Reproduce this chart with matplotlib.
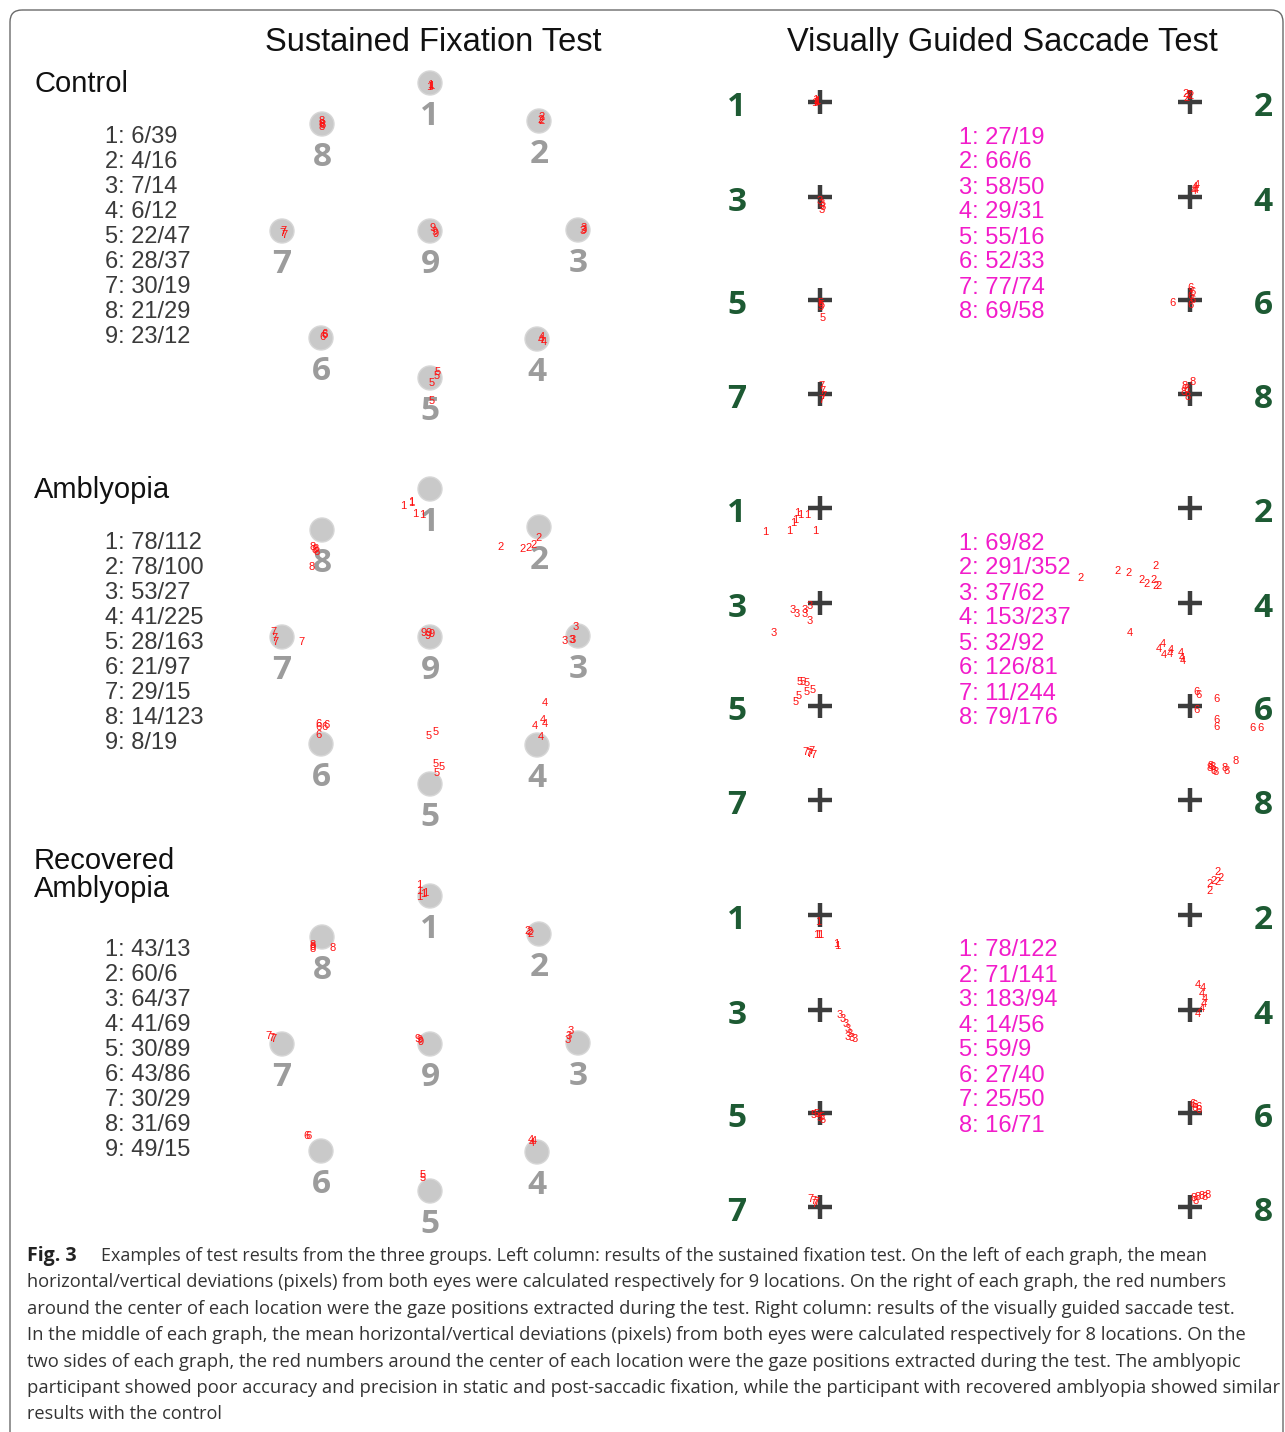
import matplotlib
matplotlib.use('Agg')
import matplotlib.pyplot as plt
from matplotlib.patches import Circle, FancyBboxPatch

W, H = 1285, 1432

groups = ['Control', 'Amblyopia', 'Recovered\nAmblyopia']

# mean horizontal/vertical deviations (pixels), sustained fixation, locations 1-9
fix_dev_control = ['6/39', '4/16', '7/14', '6/12', '22/47', '28/37', '30/19', '21/29', '23/12']
fix_dev_amblyopia = ['78/112', '78/100', '53/27', '41/225', '28/163', '21/97', '29/15', '14/123', '8/19']
fix_dev_recovered = ['43/13', '60/6', '64/37', '41/69', '30/89', '43/86', '30/29', '31/69', '49/15']

# mean horizontal/vertical deviations (pixels), saccade test, locations 1-8
sac_dev_control = ['27/19', '66/6', '58/50', '29/31', '55/16', '52/33', '77/74', '69/58']
sac_dev_amblyopia = ['69/82', '291/352', '37/62', '153/237', '32/92', '126/81', '11/244', '79/176']
sac_dev_recovered = ['78/122', '71/141', '183/94', '14/56', '59/9', '27/40', '25/50', '16/71']

# fixation targets 1-9, offset from the central target (pixels)
fix_target_dx = [0, 109, 148, 107, 0, -109, -148, -108, 0]
fix_target_dy = [-148, -110, -1, 108, 147, 107, 0, -107, 0]

# saccade targets 1-8: side (0 left, 1 right) and row
sac_target_side = [0, 1, 0, 1, 0, 1, 0, 1]
sac_target_row = [0, 0, 1, 1, 2, 2, 3, 3]

# gaze samples: (target, dx, dy) relative to the target centre
gaze_fix_control = [
    (1, 0, 2), (1, 1, 3), (1, -1, 4),
    (2, 3, -4), (2, 3, 0), (2, 2, -1),
    (3, 6, -2), (3, 6, 0), (3, 5, 1),
    (4, 5, -2), (4, 4, 1), (4, 7, 3),
    (5, 8, -6), (5, 7, -2), (5, 2, 5), (5, 2, 23),
    (6, 3, -4), (6, 2, -1), (6, 4, -3),
    (7, 1, 0), (7, 2, 4), (7, 0, 2),
    (8, 0, -3), (8, 0, 0), (8, 0, 3), (8, 1, 1),
    (9, 3, -3), (9, 6, 3), (9, 5, 1),
]
gaze_fix_amblyopia = [
    (1, -27, 17), (1, -19, 14), (1, -15, 25), (1, -8, 26), (1, -19, 13),
    (2, -38, 20), (2, -16, 22), (2, -10, 21), (2, -5, 18), (2, 0, 11),
    (3, -2, -9), (3, -13, 5), (3, -6, 4), (3, -5, 4), (4, -2, -19),
    (4, 8, -42), (4, 6, -25), (4, 8, -21), (4, 4, -8),
    (5, -1, -48), (5, 6, -52), (5, 6, -20), (5, 12, -17), (5, 7, -11),
    (6, -2, -20), (6, 5, -19), (6, -3, -17), (6, -3, -9), (6, 4, -17),
    (7, -9, -5), (7, -8, 1), (7, -7, 5), (7, 19, 5),
    (8, -9, 17), (8, -7, 20), (8, -5, 22), (8, -10, 37), (8, -6, 19),
    (9, -6, -4), (9, -1, -4), (9, -2, -1), (9, 2, -3),
]
gaze_fix_recovered = [
    (1, -11, -11), (1, -11, -5), (1, -7, -2), (1, -11, 1), (1, -5, -3),
    (2, -11, -3), (2, -9, -2), (2, -8, 0),
    (3, -7, -12), (3, -9, -7), (3, -10, -3),
    (4, -6, -12), (4, -5, -9), (4, -3, -11),
    (5, -7, -16), (5, -7, -13),
    (6, -15, -15), (6, -12, -15),
    (7, -14, -8), (7, -9, -5), (7, -11, -6),
    (8, -9, 8), (8, -9, 12), (8, -9, 10), (8, 11, 11),
    (9, -12, -5), (9, -9, -2), (9, -10, -4),
]

gaze_sac_control = [
    (1, -5, -2), (1, -4, 0), (1, -6, 1), (1, -3, -1),
    (2, -4, -8), (2, -1, -7), (2, 1, -6), (2, -3, -4),
    (3, 0, 4), (3, 2, 7), (3, 3, 10), (3, 2, 13),
    (4, 5, -10), (4, 6, -7), (4, 7, -12), (4, 4, -6),
    (5, 1, 3), (5, 2, 5), (5, 1, 7), (5, 3, 18),
    (6, 1, -12), (6, 2, -8), (6, 0, -4), (6, 3, 0), (6, 1, 5), (6, -18, 3),
    (7, 1, -8), (7, 2, -3), (7, 3, 2), (7, 1, 6),
    (8, -5, -8), (8, -3, -5), (8, 3, -12), (8, -6, -2), (8, -2, 3),
]
gaze_sac_amblyopia = [
    (1, -23, 5), (1, -20, 7), (1, -13, 7), (1, -25, 12), (1, -27, 15),
    (1, -55, 24), (1, -31, 23), (1, -5, 23),
    (2, -109, 70), (2, -72, 63), (2, -61, 65), (2, -34, 58), (2, -48, 72),
    (2, -43, 76), (2, -36, 72), (2, -34, 78), (2, -31, 78),
    (3, -27, 7), (3, -15, 7), (3, -10, 3), (3, -23, 11), (3, -15, 11),
    (3, -10, 18), (3, -46, 30),
    (4, -60, 30), (4, -27, 41), (4, -31, 46), (4, -26, 52), (4, -19, 47),
    (4, -20, 51), (4, -9, 50), (4, -7, 58), (4, -8, 55),
    (5, -20, -24), (5, -17, -24), (5, -13, -23), (5, -7, -16), (5, -13, -14),
    (5, -21, -10), (5, -24, -4),
    (6, 7, -14), (6, 9, -11), (6, 7, 4), (6, 26, -7), (6, 26, 14),
    (6, 26, 21), (6, 62, 22), (6, 71, 22),
    (7, -15, -48), (7, -12, -47), (7, -9, -49), (7, -7, -45), (7, -11, -46),
    (8, 21, -34), (8, 24, -29), (8, 26, -28), (8, 35, -32), (8, 37, -29),
    (8, 46, -39), (8, 20, -32), (8, 23, -33),
]
gaze_sac_recovered = [
    (1, -2, 7), (1, -4, 20), (1, -2, 20), (1, 0, 20), (1, 16, 29), (1, 17, 31),
    (2, 20, -24), (2, 20, -31), (2, 24, -34), (2, 28, -43), (2, 31, -37), (2, 28, -33),
    (3, 20, 5), (3, 23, 9), (3, 26, 14), (3, 28, 19), (3, 30, 24), (3, 32, 28),
    (3, 35, 29), (3, 28, 27),
    (4, 8, -25), (4, 13, -22), (4, 12, -16), (4, 15, -11), (4, 14, -6),
    (4, 12, -1), (4, 8, 4),
    (5, -6, 2), (5, -3, 1), (5, 2, 4), (5, 3, 7), (5, 0, 5),
    (6, 2, -9), (6, 5, -8), (6, 8, -6), (6, 9, -3), (6, 4, -5),
    (7, -10, -8), (7, -7, -6), (7, -4, -5), (7, -6, -3),
    (8, 4, -9), (8, 8, -10), (8, 12, -11), (8, 15, -10), (8, 6, -6), (8, 18, -12),
]

fix_devs = [fix_dev_control, fix_dev_amblyopia, fix_dev_recovered]
sac_devs = [sac_dev_control, sac_dev_amblyopia, sac_dev_recovered]
fix_gaze = [gaze_fix_control, gaze_fix_amblyopia, gaze_fix_recovered]
sac_gaze = [gaze_sac_control, gaze_sac_amblyopia, gaze_sac_recovered]

caption = [
    'Examples of test results from the three groups. Left column: results of the sustained fixation test. On the left of each graph, the mean',
    'horizontal/vertical deviations (pixels) from both eyes were calculated respectively for 9 locations. On the right of each graph, the red numbers',
    'around the center of each location were the gaze positions extracted during the test. Right column: results of the visually guided saccade test.',
    'In the middle of each graph, the mean horizontal/vertical deviations (pixels) from both eyes were calculated respectively for 8 locations. On the',
    'two sides of each graph, the red numbers around the center of each location were the gaze positions extracted during the test. The amblyopic',
    'participant showed poor accuracy and precision in static and post-saccadic fixation, while the participant with recovered amblyopia showed similar',
    'results with the control',
]
caption_right = [1207, 1225, 1228, 1237, 1235, 1276, 221]

SANS = ['Liberation Sans', 'DejaVu Sans']
NARROW = ['Liberation Sans Narrow', 'Open Sans', 'DejaVu Sans']
GREY_NUM = '#9c9c9c'
GREEN = '#1d5a33'
MAGENTA = '#f21cca'
RED = '#ff1010'

panel_dy = [0, 406, 813]
fix_cx, fix_cy = 430, 231
sac_x = [820, 1190]
sac_num_x = [737, 1263]
sac_rows = [102, 197, 300, 394]

fig = plt.figure(figsize=(W / 100, H / 100), dpi=100)
ax = fig.add_axes([0, 0, 1, 1])
ax.set_xlim(0, W)
ax.set_ylim(H, 0)
ax.axis('off')

ax.add_patch(FancyBboxPatch((10, 10), W - 12, H + 40,
                            boxstyle='round,pad=0,rounding_size=12',
                            fc='none', ec='#6a6a6a', lw=1.0))

ax.text(433, 51, 'Sustained Fixation Test', ha='center', va='baseline',
        fontsize=23.5, family=SANS, color='#111111')
ax.text(1002, 51, 'Visually Guided Saccade Test', ha='center', va='baseline',
        fontsize=23.5, family=SANS, color='#111111')

for g in range(3):
    off = panel_dy[g]
    if '\n' in groups[g]:
        for k, part in enumerate(groups[g].split('\n')):
            ax.text(34, off + 56 + 28 * k, part, va='baseline',
                    fontsize=21, family=SANS, color='#111111')
    else:
        ax.text(34, off + 92, groups[g], va='baseline', fontsize=21,
                family=SANS, color='#111111')

    # deviation tables
    for i, val in enumerate(fix_devs[g]):
        ax.text(105, off + 143 + 25 * i, '%d: %s' % (i + 1, val), va='baseline',
                fontsize=17, family=SANS, color='#3a3a3a')
    for i, val in enumerate(sac_devs[g]):
        ax.text(959, off + 143.5 + 25 * i, '%d: %s' % (i + 1, val), va='baseline',
                fontsize=17, family=SANS, color=MAGENTA)

    # sustained fixation targets
    for i in range(9):
        tx = fix_cx + fix_target_dx[i]
        ty = fix_cy + off + fix_target_dy[i]
        ax.add_patch(Circle((tx, ty), 12, fc='#c9c9c9', ec='#d6d6d6', lw=1))
        ax.text(tx, ty + 42, str(i + 1), ha='center', va='baseline', fontsize=24,
                family=NARROW, weight='bold', color=GREY_NUM)
    for t, dx, dy in fix_gaze[g]:
        ax.text(fix_cx + fix_target_dx[t - 1] + dx, fix_cy + off + fix_target_dy[t - 1] + dy,
                str(t), ha='center', va='center', fontsize=8, family=SANS, color=RED)

    # saccade targets
    for i in range(8):
        side, row = sac_target_side[i], sac_target_row[i]
        y = sac_rows[row] + off
        ax.plot([sac_x[side]], [y], marker='+', ms=17, mew=3.2, color='#3c3c3c')
        ax.text(sac_num_x[side], y + 14, str(i + 1), ha='center', va='baseline',
                fontsize=24, family=NARROW, weight='bold', color=GREEN)
    for t, dx, dy in sac_gaze[g]:
        side, row = sac_target_side[t - 1], sac_target_row[t - 1]
        ax.text(sac_x[side] + dx, sac_rows[row] + off + dy, str(t), ha='center',
                va='center', fontsize=8, family=SANS, color=RED)

# caption, each line stretched to its measured width
renderer = fig.canvas.get_renderer()
ax.text(27, 1261, 'Fig. 3', va='baseline', fontsize=14, family=NARROW,
        weight='bold', color='#222222')
for k, line in enumerate(caption):
    x0 = 101 if k == 0 else 27
    t = ax.text(x0, 1261 + 26.4 * k, line, va='baseline', fontsize=13,
                family=NARROW, color='#333333')
    w = t.get_window_extent(renderer).width
    t.set_fontsize(13 * (caption_right[k] - x0) / w)

fig.savefig('out.png', dpi=100)
